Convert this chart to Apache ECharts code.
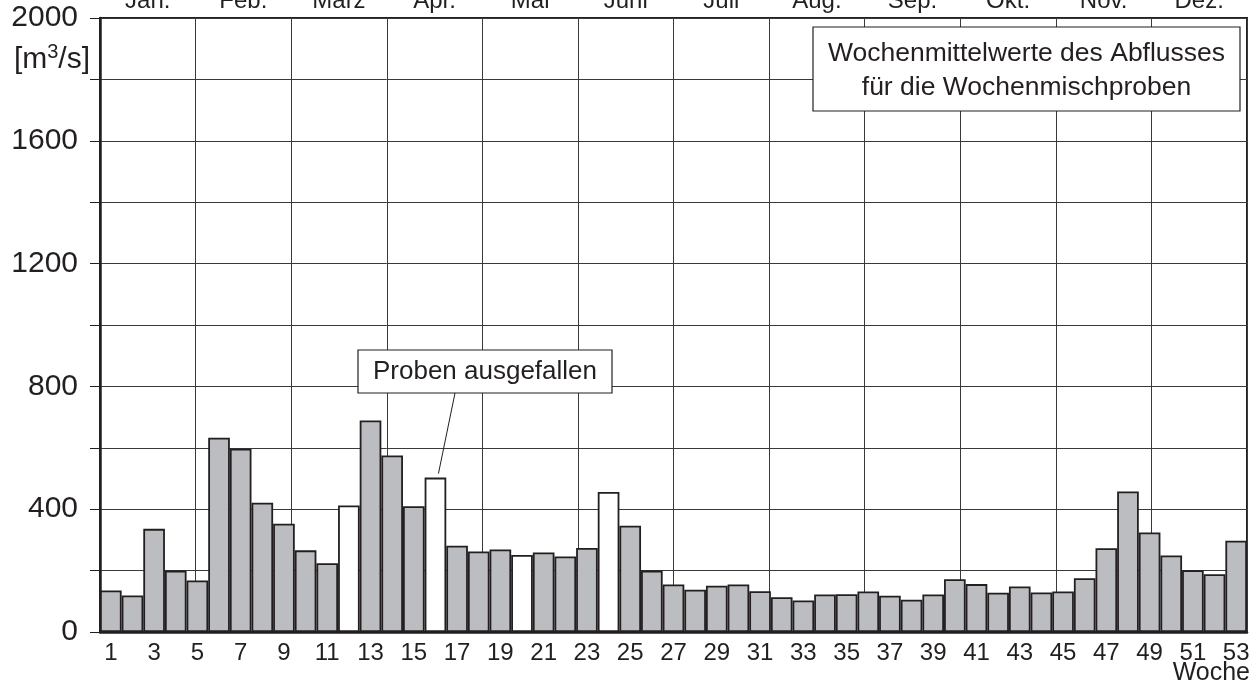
<!DOCTYPE html>
<html>
<head>
<meta charset="utf-8">
<script src="https://cdn.jsdelivr.net/npm/echarts@6/dist/echarts.min.js"></script>
<style>
html,body{margin:0;padding:0;background:#fff;}
#chart{width:1257px;height:686px;}
</style>
</head>
<body>
<div id="chart"></div>
<script>
// ---- data ----
var weeks = [];
for (var w = 1; w <= 53; w++) weeks.push(String(w));
var flow = [135, 119, 336, 200, 168, 633, 597, 421, 353, 266, 224, 412, 689, 575, 410, 503,
            281, 262, 269, 251, 259, 246, 274, 456, 346, 200, 155, 138, 151, 155, 133, 113,
            103, 122, 123, 132, 118, 105, 122, 172, 156, 128, 148, 129, 132, 175, 273, 458,
            324, 249, 201, 188, 297];
var missingWeeks = [12, 16, 20, 24];
var months = ['Jan.', 'Feb.', 'März', 'Apr.', 'Mai', 'Juni', 'Juli', 'Aug.', 'Sep.', 'Okt.', 'Nov.', 'Dez.'];
var yTicks = [0, 400, 800, 1200, 1600, 2000];
var legendText = 'Wochenmittelwerte des Abflusses\nfür die Wochenmischproben';
var noteText = 'Proben ausgefallen';
var noteTargetWeek = 16;

var FONT = '"Liberation Sans", Arial, Helvetica, sans-serif';
var INK = '#231f20';
var GRAY = '#bcbdc0';

var barData = flow.map(function (v, i) {
  var missing = missingWeeks.indexOf(i + 1) >= 0;
  return { value: v, itemStyle: { color: missing ? '#ffffff' : GRAY } };
});

var chart = echarts.init(document.getElementById('chart'), null, { renderer: 'canvas' });

var option = {
  animation: false,
  backgroundColor: '#ffffff',
  grid: {
    left: 100, right: 10, top: 18, bottom: 54, containLabel: false, outerBoundsMode: 'none',
    show: true, borderColor: INK, borderWidth: 2, backgroundColor: 'transparent'
  },
  xAxis: [
    {
      type: 'category', data: weeks, position: 'bottom',
      axisLine: { show: true, lineStyle: { color: INK, width: 2.5 } },
      axisTick: { show: false },
      splitLine: { show: false },
      axisLabel: { interval: 1, color: INK, fontFamily: FONT, fontSize: 24, margin: 9 }
    },
    {
      type: 'category', data: months, position: 'top', boundaryGap: true,
      axisLine: { show: false },
      axisTick: { show: false },
      splitLine: { show: true, interval: 0, lineStyle: { color: '#3a3a3a', width: 1 } },
      axisLabel: { interval: 0, color: INK, fontFamily: FONT, fontSize: 24, margin: 5 }
    }
  ],
  yAxis: [
    {
      type: 'value', min: 0, max: 2000, interval: 200,
      axisLine: { show: true, lineStyle: { color: INK, width: 2.5 } },
      axisTick: { show: true, length: 10, inside: false, lineStyle: { color: INK, width: 1 } },
      splitLine: { show: true, lineStyle: { color: '#3a3a3a', width: 1 } },
      axisLabel: {
        color: INK, fontFamily: FONT, fontSize: 30, margin: 22,
        formatter: function (v) { return yTicks.indexOf(v) >= 0 ? String(v) : ''; }
      }
    }
  ],
  series: [
    {
      type: 'bar', data: barData, xAxisIndex: 0, yAxisIndex: 0,
      barCategoryGap: '0%', barGap: '0%',
      itemStyle: { borderColor: INK, borderWidth: 1.8 },
      emphasis: { disabled: true }
    }
  ]
};
chart.setOption(option);

// annotation leader: from note box to the top of the target bar
var tip = chart.convertToPixel({ xAxisIndex: 0, yAxisIndex: 0 }, [noteTargetWeek - 1, flow[noteTargetWeek - 1]]);

chart.setOption({
  graphic: [
    {
      type: 'text', x: 90, y: 60,
      style: {
        text: '{a|[m}{s|3}{a|/s]}', align: 'right', verticalAlign: 'middle',
        rich: {
          a: { fontFamily: FONT, fontSize: 30, fill: INK, lineHeight: 36 },
          s: { fontFamily: FONT, fontSize: 20, fill: INK, lineHeight: 36, verticalAlign: 'top', padding: [0, 0, 8, 0] }
        }
      }
    },
    {
      type: 'rect', shape: { x: 813, y: 27, width: 427, height: 84 },
      style: { fill: '#ffffff', stroke: INK, lineWidth: 1.2 }, z: 100
    },
    {
      type: 'text', x: 1026.5, y: 71, z: 101,
      style: { text: legendText, align: 'center', verticalAlign: 'middle', fontFamily: FONT, fontSize: 26.5, lineHeight: 34, fill: INK }
    },
    {
      type: 'line', z: 100,
      shape: { x1: 455, y1: 393, x2: tip[0] + 3, y2: tip[1] - 4 },
      style: { stroke: INK, lineWidth: 1 }
    },
    {
      type: 'rect', shape: { x: 358, y: 350, width: 254, height: 43 },
      style: { fill: '#ffffff', stroke: INK, lineWidth: 1.2 }, z: 100
    },
    {
      type: 'text', x: 485, y: 372, z: 101,
      style: { text: noteText, align: 'center', verticalAlign: 'middle', fontFamily: FONT, fontSize: 26, fill: INK }
    },
    {
      type: 'text', x: 1250, y: 673, z: 101,
      style: { text: 'Woche', align: 'right', verticalAlign: 'middle', fontFamily: FONT, fontSize: 25, fill: INK }
    }
  ]
});
</script>
</body>
</html>
